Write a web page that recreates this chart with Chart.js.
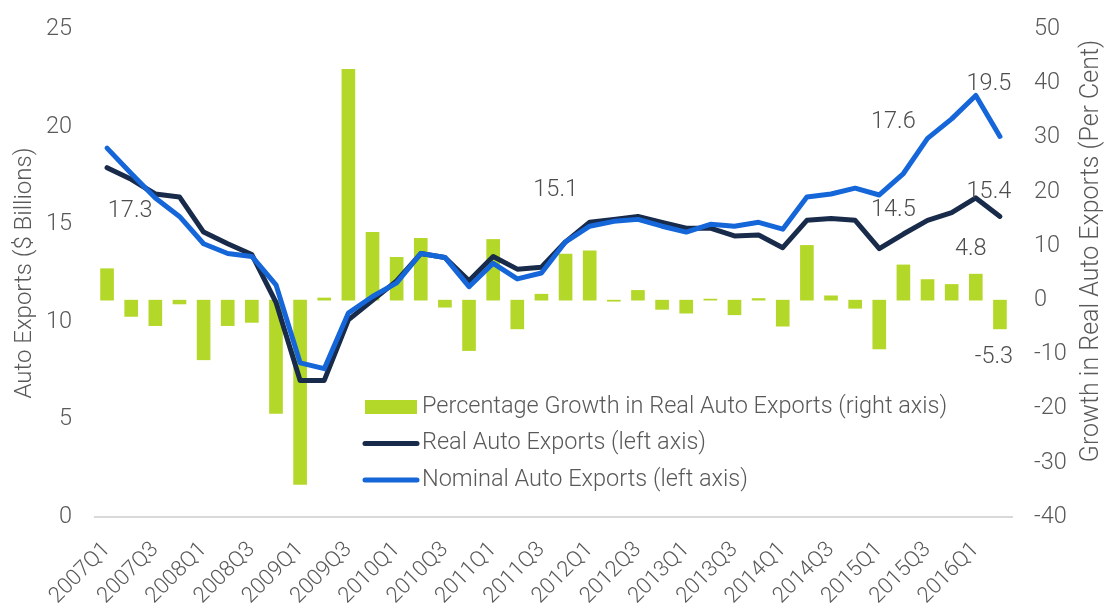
<!DOCTYPE html>
<html>
<head>
<meta charset="utf-8">
<script src="https://cdn.jsdelivr.net/npm/chart.js@4.4.1/dist/chart.umd.min.js"></script>
<style>
  html, body { margin: 0; padding: 0; background: #fff; }
  #wrap { width: 1107px; height: 609px; position: relative; }
</style>
</head>
<body>
<div id="wrap"><canvas id="autoChart"></canvas></div>
<script>
// Canadian auto exports: real vs nominal ($ billions) and real growth (per cent)

const quarters = [
  '2007Q1', '2007Q2', '2007Q3', '2007Q4', '2008Q1', '2008Q2', '2008Q3', '2008Q4',
  '2009Q1', '2009Q2', '2009Q3', '2009Q4', '2010Q1', '2010Q2', '2010Q3', '2010Q4',
  '2011Q1', '2011Q2', '2011Q3', '2011Q4', '2012Q1', '2012Q2', '2012Q3', '2012Q4',
  '2013Q1', '2013Q2', '2013Q3', '2013Q4', '2014Q1', '2014Q2', '2014Q3', '2014Q4',
  '2015Q1', '2015Q2', '2015Q3', '2015Q4', '2016Q1', '2016Q2'
];

const realExports = [
  17.9, 17.3, 16.55, 16.4, 14.6, 14.0, 13.45, 11.0,
  7.0, 7.0, 10.1, 11.1, 12.1, 13.5, 13.3, 12.1,
  13.35, 12.7, 12.8, 14.1, 15.1, 15.25, 15.4, 15.1,
  14.8, 14.8, 14.4, 14.45, 13.8, 15.2, 15.3, 15.2,
  13.75, 14.5, 15.2, 15.6, 16.35, 15.4
];

const nominalExports = [
  18.9, 17.6, 16.35, 15.4, 14.0, 13.5, 13.35, 11.9,
  7.9, 7.6, 10.45, 11.3, 12.0, 13.5, 13.3, 11.8,
  13.0, 12.2, 12.5, 14.1, 14.9, 15.15, 15.25, 14.9,
  14.6, 15.0, 14.9, 15.1, 14.75, 16.4, 16.55, 16.85,
  16.5, 17.6, 19.4, 20.4, 21.6, 19.5
];

const realGrowth = [
  5.8, -3.0, -4.7, -0.7, -11.0, -4.7, -4.1, -20.9,
  -34.0, 0.4, 42.6, 12.5, 7.9, 11.4, -1.3, -9.3,
  11.2, -5.3, 1.1, 8.5, 9.1, -0.2, 1.8, -1.7,
  -2.4, 0.2, -2.7, 0.3, -4.8, 10.1, 0.8, -1.5,
  -9.0, 6.5, 3.8, 2.9, 4.8, -5.3
];

// value callouts: dataset index, point index, text
const callouts = [
  { ds: 1, i: 1, text: '17.3', dx: -1, dy: 32 },
  { ds: 1, i: 20, text: '15.1', dx: -34, dy: -32 },
  { ds: 1, i: 33, text: '14.5', dx: -10, dy: -24 },
  { ds: 2, i: 33, text: '17.6', dx: -10, dy: -51 },
  { ds: 2, i: 37, text: '19.5', dx: -11, dy: -52 },
  { ds: 1, i: 37, text: '15.4', dx: -11, dy: -24 },
  { ds: 0, i: 36, text: '4.8', dx: -5, dy: -25 },
  { ds: 0, i: 37, text: '-5.3', dx: -6, dy: 28 }
];

const GREEN = '#b4d82a';
const NAVY = '#192b4b';
const BLUE = '#1566d8';
const TEXT = '#595959';
const FONT = 'Roboto, "Liberation Sans", sans-serif';

Chart.defaults.font.family = FONT;
Chart.defaults.font.weight = 300;
Chart.defaults.color = TEXT;

const calloutPlugin = {
  id: 'callouts',
  afterDatasetsDraw(chart) {
    const ctx = chart.ctx;
    ctx.save();
    ctx.font = '300 23.5px ' + FONT;
    ctx.fillStyle = '#4d4d4d';
    ctx.textAlign = 'center';
    ctx.textBaseline = 'middle';
    callouts.forEach(c => {
      const el = chart.getDatasetMeta(c.ds).data[c.i];
      ctx.fillText(c.text, el.x + c.dx, el.y + c.dy);
    });
    ctx.restore();
  }
};

const legendPlugin = {
  id: 'innerLegend',
  afterDraw(chart) {
    const ctx = chart.ctx;
    const x0 = 365, y0 = 407, rowGap = 36.5;
    ctx.save();
    ctx.font = '300 23.5px ' + FONT;
    ctx.textBaseline = 'middle';
    chart.data.datasets.forEach((ds, k) => {
      const y = y0 + k * rowGap;
      if (ds.type === 'bar') {
        ctx.fillStyle = ds.backgroundColor;
        ctx.fillRect(x0, y - 7, 52, 14);
      } else {
        ctx.strokeStyle = ds.borderColor;
        ctx.lineWidth = 5;
        ctx.lineCap = 'round';
        ctx.beginPath();
        ctx.moveTo(x0, y);
        ctx.lineTo(x0 + 52, y);
        ctx.stroke();
      }
      ctx.fillStyle = TEXT;
      ctx.fillText(ds.label, x0 + 57, y);
    });
    ctx.restore();
  }
};

const rightTitlePlugin = {
  id: 'rightTitle',
  afterDraw(chart) {
    const ctx = chart.ctx;
    ctx.save();
    ctx.translate(1092, 251);
    ctx.rotate(-Math.PI / 2);
    ctx.font = '300 25px ' + FONT;
    ctx.fillStyle = TEXT;
    ctx.textAlign = 'center';
    ctx.textBaseline = 'middle';
    ctx.fillText('Growth in Real Auto Exports (Per Cent)', 0, 0);
    ctx.restore();
  }
};

const ctx = document.getElementById('autoChart').getContext('2d');
new Chart(ctx, {
  data: {
    labels: quarters,
    datasets: [
      {
        type: 'bar',
        label: 'Percentage Growth in Real Auto Exports (right axis)',
        data: realGrowth,
        backgroundColor: GREEN,
        yAxisID: 'yRight',
        barThickness: 13,
        order: 3
      },
      {
        type: 'line',
        label: 'Real Auto Exports (left axis)',
        data: realExports,
        borderColor: NAVY,
        borderWidth: 5,
        pointRadius: 0,
        tension: 0,
        borderJoinStyle: 'round',
        borderCapStyle: 'round',
        yAxisID: 'yLeft',
        order: 2
      },
      {
        type: 'line',
        label: 'Nominal Auto Exports (left axis)',
        data: nominalExports,
        borderColor: BLUE,
        borderWidth: 5,
        pointRadius: 0,
        tension: 0,
        borderJoinStyle: 'round',
        borderCapStyle: 'round',
        yAxisID: 'yLeft',
        order: 1
      }
    ]
  },
  options: {
    responsive: true,
    maintainAspectRatio: false,
    animation: false,
    layout: { padding: { top: 22, left: 0, right: 0, bottom: 0 } },
    plugins: {
      legend: { display: false },
      tooltip: { enabled: false }
    },
    scales: {
      x: {
        offset: true,
        grid: { display: false },
        border: { display: true, color: '#d9d9d9', width: 2 },
        ticks: {
          autoSkip: false,
          minRotation: 45,
          maxRotation: 45,
          padding: 12,
          font: { size: 22 },
          callback: function (val, idx) {
            return idx % 2 === 0 ? quarters[idx] : '';
          }
        },
        afterFit: s => { s.height = 92; }
      },
      yLeft: {
        position: 'left',
        min: 0,
        max: 25,
        grid: { display: false },
        border: { display: false },
        ticks: { stepSize: 5, padding: 15, font: { size: 23.5 } },
        title: {
          display: true,
          text: 'Auto Exports ($ Billions)',
          font: { size: 24 },
          padding: { top: 11, bottom: 0 }
        },
        afterFit: s => { s.width = 95; }
      },
      yRight: {
        position: 'right',
        min: -40,
        max: 50,
        grid: { display: false },
        border: { display: false },
        ticks: { stepSize: 10, padding: 14, font: { size: 23.5 } },
        afterFit: s => { s.width = 95; }
      }
    }
  },
  plugins: [calloutPlugin, legendPlugin, rightTitlePlugin]
});
</script>
</body>
</html>
